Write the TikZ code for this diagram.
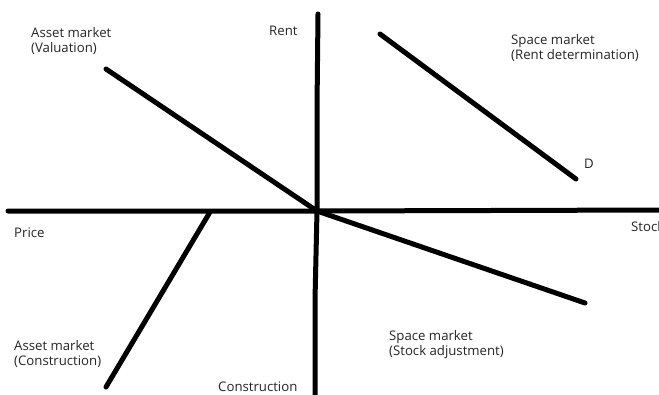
\documentclass[tikz,border=0pt]{standalone}
\usepackage{fontspec}
\setmainfont{Open Sans}
\begin{document}
\begin{tikzpicture}[x=1pt,y=-1pt,
  curve/.style={line width=5pt,line cap=round},
  lbl/.style={inner sep=0pt,anchor=base west,font=\fontsize{13.2}{15}\selectfont,text=black!85,align=left}]
\useasboundingbox[fill=white] (0,0) rectangle (659,394);
% axes
\coordinate (vtop) at (318,14);
\coordinate (vmid) at (317,108);
\coordinate (vlow) at (315,300);
\coordinate (vbot) at (315,396);
\coordinate (hleft) at (8,211);
\coordinate (hright) at (662,210);
\coordinate (o) at (317,211);
\draw[curve] (vtop) -- (vmid) -- (o) -- (vlow) -- (vbot);
\draw[curve] (hleft) -- (o) -- (hright);
% market curves
\coordinate (val) at (106,69);
\draw[curve] (val) -- (o);
\coordinate (dtop) at (380,34);
\coordinate (dbot) at (576,179);
\draw[curve] (dtop) -- (dbot);
\coordinate (cup) at (210,212);
\coordinate (clow) at (106,387);
\draw[curve] (cup) -- (clow);
\coordinate (sadj) at (585,303);
\draw[curve] (o) -- (sadj);
% labels
\node[lbl] (l1) at (31,37) {Asset market};
\node[lbl] (l2) at (31,52) {(Valuation)};
\node[lbl] (rent) at (269,35) {Rent};
\node[lbl] (l3) at (511,44) {Space market};
\node[lbl] (l4) at (511,59) {(Rent determination)};
\node[lbl] (d) at (584,168) {D};
\node[lbl] (price) at (14,237) {Price};
\node[lbl] (stock) at (631,231) {Stock};
\node[lbl] (l5) at (14,350) {Asset market};
\node[lbl] (l6) at (14,365) {(Construction)};
\node[lbl] (cons) at (218,391) {Construction};
\node[lbl] (l7) at (389,340) {Space market};
\node[lbl] (l8) at (389,355) {(Stock adjustment)};
\end{tikzpicture}
\end{document}
